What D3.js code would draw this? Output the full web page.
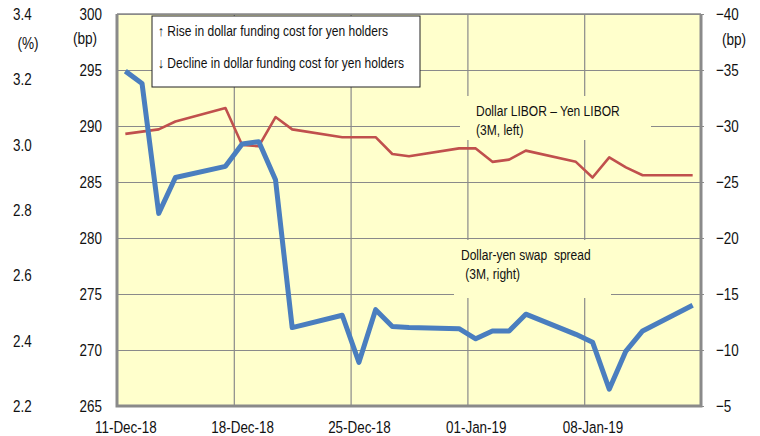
<!DOCTYPE html>
<html>
<head>
    <meta charset="UTF-8" />
    <script src="https://d3js.org/d3.v7.min.js"></script>
    <style>
        body { margin: 0; background: white; }
        svg text { font-family: "Liberation Sans", Arial, sans-serif; fill: #111; }
        .grid line { stroke: #8a8a8a; stroke-width: 1.2; }
        .grid .domain { stroke: none; }
        .axis .domain { stroke: none; }
        .axis line { stroke: #8a8a8a; }
    </style>
</head>
<body>
    <svg id="svg" width="760" height="436"></svg>
    <script>
        // data
        const dates = ["2018-12-11","2018-12-12","2018-12-13","2018-12-14","2018-12-17","2018-12-18",
            "2018-12-19","2018-12-20","2018-12-21","2018-12-24","2018-12-25","2018-12-26","2018-12-27",
            "2018-12-28","2018-12-31","2019-01-01","2019-01-02","2019-01-03","2019-01-04","2019-01-07",
            "2019-01-08","2019-01-09","2019-01-10","2019-01-11","2019-01-14"];
        const liborSpread = [289.3, 289.5, 289.7, 290.4, 291.6, 288.3, 288.2, 290.8, 289.7, 289.0, 289.0,
            289.0, 287.5, 287.3, 288.0, 288.0, 286.8, 287.0, 287.8, 286.8, 285.4, 287.2, 286.3, 285.6, 285.6];
        const swapSpread = [-34.9, -33.8, -22.2, -25.4, -26.4, -28.4, -28.6, -25.2, -12.0, -13.1, -8.9,
            -13.6, -12.1, -12.0, -11.9, -11.0, -11.7, -11.7, -13.2, -11.4, -10.7, -6.5, -9.9, -11.7, -14.0];
        const xTicks = ["2018-12-11","2018-12-18","2018-12-25","2019-01-01","2019-01-08"];
        const leftTicks = [265, 270, 275, 280, 285, 290, 295, 300];
        const rightTicks = [-40, -35, -30, -25, -20, -15, -10, -5];
        const pctTicks = [2.2, 2.4, 2.6, 2.8, 3.0, 3.2, 3.4];

        const svg = d3.select("svg#svg");
        const plot = {left: 117, right: 701, top: 14, bottom: 406};
        const pw = plot.right - plot.left;
        const ph = plot.bottom - plot.top;
        const parse = d3.timeParse("%Y-%m-%d");
        const mid = d => d3.timeHour.offset(parse(d), 12);

        // the original text is tall and narrow, so squeeze it sideways
        function squeeze(sel, sx) {
            sel.each(function () {
                const t = d3.select(this);
                const x = +t.attr("x") || 0;
                t.attr("x", x / sx).attr("transform", "scale(" + sx + ",1)");
            });
        }

        const xScale = d3.scaleTime()
            .domain([parse("2018-12-11"), parse("2019-01-15")])
            .range([plot.left, plot.right]);
        const yLeft = d3.scaleLinear().domain([265, 300]).range([plot.bottom, plot.top]);
        const yRight = d3.scaleLinear().domain([-5, -40]).range([plot.bottom, plot.top]);
        const yPct = d3.scaleLinear().domain([2.2, 3.4]).range([plot.bottom, plot.top]);

        // plot background
        svg.append("rect")
            .attr("x", plot.left).attr("y", plot.top)
            .attr("width", pw).attr("height", ph)
            .attr("fill", "#ffffcc");

        // gridlines
        svg.append("g").attr("class", "grid")
            .attr("transform", "translate(" + plot.left + ",0)")
            .call(d3.axisLeft(yLeft).tickValues(leftTicks).tickSize(-pw - 3).tickFormat(""));
        svg.append("g").attr("class", "grid")
            .attr("transform", "translate(0," + plot.bottom + ")")
            .call(d3.axisBottom(xScale).tickValues(xTicks.slice(1).map(parse)).tickSize(-ph).tickFormat(""));

        // background patches behind the series labels
        svg.append("rect").attr("x", 460).attr("y", 96).attr("width", 191).attr("height", 44).attr("fill", "#ffffcc");
        svg.append("rect").attr("x", 454).attr("y", 240).attr("width", 157).attr("height", 58).attr("fill", "#ffffcc");

        // border
        const border = svg.append("g").attr("stroke", "#8a8a8a").attr("fill", "none");
        border.append("line").attr("x1", plot.left).attr("x2", plot.right).attr("y1", plot.top).attr("y2", plot.top).attr("stroke-width", 1.5);
        border.append("path")
            .attr("d", "M" + plot.left + "," + plot.top + "V" + plot.bottom + "H" + plot.right + "V" + plot.top)
            .attr("stroke-width", 3);

        // axes labels
        const tickFont = "17px", tickSx = 0.79;
        let t;
        t = svg.append("g").attr("class", "axis")
            .attr("transform", "translate(" + (plot.left - 2) + ",0)")
            .call(d3.axisLeft(yLeft).tickValues(leftTicks).tickSize(0).tickPadding(13))
            .selectAll("text").style("font-size", tickFont);
        squeeze(t, tickSx);
        t = svg.append("g").attr("class", "axis")
            .attr("transform", "translate(" + plot.right + ",0)")
            .call(d3.axisRight(yRight).tickValues(rightTicks).tickSize(3).tickPadding(12))
            .selectAll("text").style("font-size", tickFont);
        squeeze(t, tickSx);
        t = svg.append("g").attr("class", "axis")
            .attr("transform", "translate(13,0)")
            .call(d3.axisRight(yPct).tickValues(pctTicks).tickSize(0).tickPadding(0).tickFormat(d3.format(".1f")))
            .selectAll("text").style("font-size", tickFont);
        squeeze(t, tickSx);
        t = svg.append("g").attr("class", "axis")
            .attr("transform", "translate(0,421)")
            .call(d3.axisBottom(xScale).tickValues(xTicks.map(mid)).tickSize(0).tickPadding(0)
                .tickFormat(d3.timeFormat("%d-%b-%y")))
            .selectAll("text").style("font-size", tickFont);
        squeeze(t, tickSx);

        const units = svg.append("g").style("font-size", "16px");
        units.append("text").attr("x", 28).attr("y", 45).attr("text-anchor", "middle")
            .attr("dominant-baseline", "middle").text("(%)");
        units.append("text").attr("x", 85).attr("y", 40).attr("text-anchor", "middle")
            .attr("dominant-baseline", "middle").text("(bp)");
        units.append("text").attr("x", 734).attr("y", 41).attr("text-anchor", "middle")
            .attr("dominant-baseline", "middle").text("(bp)");
        squeeze(units.selectAll("text"), 0.85);

        // lines
        const libLine = d3.line().x((d, i) => xScale(mid(dates[i]))).y(d => yLeft(d));
        const swapLine = d3.line().x((d, i) => xScale(mid(dates[i]))).y(d => yRight(d));
        svg.append("path").datum(liborSpread)
            .attr("d", libLine).attr("fill", "none")
            .attr("stroke", "#c0504d").attr("stroke-width", 2.6).attr("stroke-linejoin", "round");
        svg.append("path").datum(swapSpread)
            .attr("d", swapLine).attr("fill", "none")
            .attr("stroke", "#4a7ebf").attr("stroke-width", 5).attr("stroke-linejoin", "round");

        // series labels
        const lab = svg.append("g").style("font-size", "14.5px");
        lab.append("text").attr("x", 476).attr("y", 116).text("Dollar LIBOR \u2013 Yen LIBOR");
        lab.append("text").attr("x", 476).attr("y", 135).text("(3M, left)");
        lab.append("text").attr("x", 461).attr("y", 260).attr("xml:space", "preserve").text("Dollar-yen swap  spread");
        lab.append("text").attr("x", 462).attr("y", 279).attr("xml:space", "preserve").text(" (3M, right)");
        squeeze(lab.selectAll("text"), 0.83);

        // legend box
        svg.append("rect").attr("x", 152).attr("y", 16).attr("width", 268).attr("height", 71)
            .attr("fill", "white").attr("stroke", "#222").attr("stroke-width", 1);
        const legend = svg.append("g").style("font-size", "14.5px");
        legend.append("text").attr("x", 158).attr("y", 36).text("\u2191 Rise in dollar funding cost for yen holders");
        legend.append("text").attr("x", 158).attr("y", 68).text("\u2193 Decline in dollar funding cost for yen holders");
        squeeze(legend.selectAll("text"), 0.83);
    </script>
</body>
</html>
